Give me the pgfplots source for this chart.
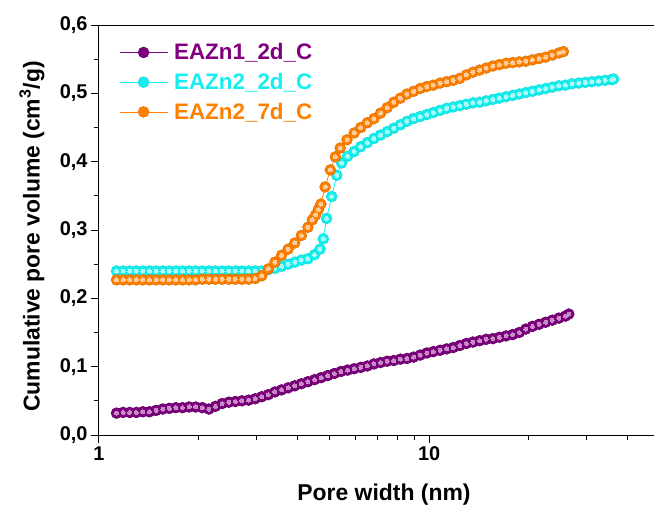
\documentclass[border=0pt]{standalone}
\usepackage{fontspec}
\setmainfont{Liberation Sans}
\usepackage{pgfplots}
\pgfplotsset{compat=1.18}
\definecolor{cpur}{RGB}{128,0,128}
\definecolor{ccy}{RGB}{20,238,238}
\definecolor{cor}{RGB}{255,128,0}
\colorlet{hpur}{white!55!cpur}
\colorlet{hcy}{white!65!ccy}
\colorlet{hor}{white!60!cor}
\pgfplotstableread{
x y
1.130 0.032
1.183 0.033
1.239 0.033
1.297 0.033
1.358 0.034
1.422 0.034
1.489 0.036
1.560 0.038
1.633 0.039
1.710 0.040
1.791 0.040
1.875 0.041
1.963 0.041
2.056 0.040
2.153 0.038
2.254 0.042
2.360 0.046
2.472 0.048
2.588 0.049
2.710 0.050
2.838 0.051
2.972 0.053
3.112 0.056
3.258 0.059
3.412 0.063
3.573 0.066
3.741 0.069
3.917 0.072
4.102 0.075
4.295 0.078
4.498 0.081
4.710 0.084
4.932 0.087
5.164 0.090
5.408 0.093
5.662 0.095
5.929 0.097
6.209 0.099
6.501 0.101
6.808 0.104
7.129 0.106
7.464 0.108
7.816 0.109
8.185 0.111
8.570 0.112
8.974 0.114
9.397 0.117
9.840 0.120
10.30 0.122
10.79 0.124
11.30 0.126
11.83 0.128
12.39 0.131
12.97 0.134
13.58 0.136
14.22 0.138
14.89 0.140
15.60 0.141
16.33 0.143
17.10 0.145
17.91 0.147
18.75 0.150
19.63 0.155
20.56 0.159
21.53 0.162
22.54 0.165
23.60 0.168
24.72 0.171
25.88 0.174
26.50 0.177
}\purdata
\pgfplotstableread{
x y
1.130 0.240
1.183 0.240
1.239 0.240
1.297 0.240
1.358 0.240
1.422 0.240
1.489 0.240
1.560 0.240
1.633 0.240
1.710 0.240
1.791 0.240
1.875 0.240
1.963 0.240
2.056 0.240
2.153 0.240
2.254 0.240
2.360 0.240
2.472 0.240
2.588 0.240
2.710 0.240
2.838 0.240
2.972 0.240
3.112 0.240
3.258 0.242
3.412 0.244
3.573 0.247
3.741 0.250
3.917 0.253
4.102 0.256
4.295 0.258
4.498 0.264
4.670 0.272
4.780 0.287
4.890 0.317
5.070 0.349
5.250 0.380
5.430 0.398
5.662 0.408
5.929 0.415
6.209 0.422
6.501 0.428
6.808 0.434
7.129 0.439
7.464 0.444
7.816 0.449
8.185 0.454
8.570 0.459
8.974 0.463
9.397 0.466
9.840 0.469
10.30 0.472
10.79 0.475
11.30 0.478
11.83 0.480
12.39 0.482
12.97 0.484
13.58 0.486
14.22 0.487
14.89 0.489
15.60 0.491
16.33 0.493
17.10 0.495
17.91 0.497
18.75 0.499
19.63 0.501
20.56 0.503
21.53 0.505
22.54 0.507
23.60 0.509
24.72 0.511
25.88 0.512
27.10 0.514
28.38 0.515
29.72 0.516
31.12 0.517
32.58 0.518
34.12 0.519
35.73 0.520
36.20 0.521
}\cydata
\pgfplotstableread{
x y
1.130 0.227
1.183 0.227
1.239 0.227
1.297 0.227
1.358 0.227
1.422 0.227
1.489 0.227
1.560 0.227
1.633 0.227
1.710 0.227
1.791 0.227
1.875 0.227
1.963 0.227
2.056 0.228
2.153 0.228
2.254 0.228
2.360 0.228
2.472 0.228
2.588 0.228
2.710 0.228
2.838 0.228
2.972 0.229
3.112 0.233
3.258 0.243
3.412 0.253
3.573 0.263
3.741 0.272
3.917 0.281
4.102 0.292
4.295 0.304
4.430 0.315
4.530 0.322
4.620 0.330
4.700 0.338
4.840 0.363
5.020 0.388
5.200 0.407
5.380 0.420
5.640 0.432
5.929 0.442
6.209 0.450
6.501 0.457
6.808 0.463
7.129 0.471
7.464 0.479
7.816 0.487
8.185 0.493
8.570 0.499
8.974 0.503
9.397 0.507
9.840 0.510
10.30 0.512
10.79 0.515
11.30 0.517
11.83 0.519
12.39 0.522
12.97 0.527
13.58 0.531
14.22 0.534
14.89 0.537
15.60 0.540
16.33 0.542
17.10 0.544
17.91 0.545
18.75 0.546
19.63 0.547
20.56 0.549
21.53 0.551
22.54 0.553
23.60 0.556
24.72 0.559
25.50 0.561
}\ordata
\begin{document}
\begin{tikzpicture}
\begin{axis}[
  scale only axis, width=555bp, height=410bp,
  xmode=log, xmin=1, xmax=48, ymin=0, ymax=0.6,
  axis x line*=bottom, axis y line*=left,
  axis line style={line width=1bp, black},
  xtick={1,10}, xticklabels={1,10},
  minor xtick={2,3,4,5,6,7,8,9,20,30,40},
  ytick={0,0.1,0.2,0.3,0.4,0.5,0.6},
  minor ytick={0.05,0.15,0.25,0.35,0.45,0.55},
  tick align=outside, major tick length=8bp, minor tick length=5bp,
  every tick/.style={line width=1bp, black},
  y tick label style={/pgf/number format/.cd, fixed, fixed zerofill, precision=1, use comma},
  /pgf/number format/assume math mode=true,
  ticklabel style={font=\fontsize{20}{24}\selectfont\bfseries},
  xlabel={Pore width (nm)},
  ylabel={Cumulative pore volume (cm\textsuperscript{3}/g)},
  label style={font=\fontsize{23}{27}\selectfont\bfseries},
  xlabel style={at={(axis description cs:0.5135,-0.146)}, anchor=center},
  ylabel style={at={(axis description cs:-0.121,0.484)}, anchor=center, rotate=0},
  legend style={draw=none, fill=none, at={(0.036,0.96)}, anchor=north west,
    font=\fontsize{22.5}{26}\selectfont\bfseries, row sep=8bp, inner sep=0pt},
  legend cell align=left,
  legend image code/.code={\draw[#1, mark repeat=2, mark phase=2, line width=0.8bp] plot coordinates {(0bp,0bp) (24bp,0bp) (48bp,0bp)};
    \fill[white, opacity=0] (52bp,0bp) circle (0.1bp);},
]
\addplot[cpur, line width=0.8bp, mark=*, mark size=5.4bp, mark options={fill=cpur, draw=cpur!75!black, line width=0.6bp}] table {\purdata};
\addlegendentry{\textcolor{cpur}{EAZn1\_2d\_C}}
\addplot[only marks, forget plot, color=hpur, mark=*, mark size=2bp, mark options={fill=hpur, draw=hpur, line width=0pt}] table {\purdata};
\addplot[ccy, line width=0.8bp, mark=*, mark size=5.4bp, mark options={fill=ccy, draw=ccy!92!black, line width=0.6bp}] table {\cydata};
\addlegendentry{\textcolor{ccy}{EAZn2\_2d\_C}}
\addplot[only marks, forget plot, color=hcy, mark=*, mark size=2bp, mark options={fill=hcy, draw=hcy, line width=0pt}] table {\cydata};
\addplot[cor, line width=0.8bp, mark=*, mark size=5.4bp, mark options={fill=cor, draw=cor!88!black, line width=0.6bp}] table {\ordata};
\addlegendentry{\textcolor{cor}{EAZn2\_7d\_C}}
\addplot[only marks, forget plot, color=hor, mark=*, mark size=2bp, mark options={fill=hor, draw=hor, line width=0pt}] table {\ordata};
\end{axis}
\draw[line width=1bp] (current axis.north west) -- (current axis.north east);
\pgfresetboundingbox
\path (current axis.south west) ++(-99bp,-73bp) rectangle ++(654bp,508bp);
\end{tikzpicture}
\end{document}
